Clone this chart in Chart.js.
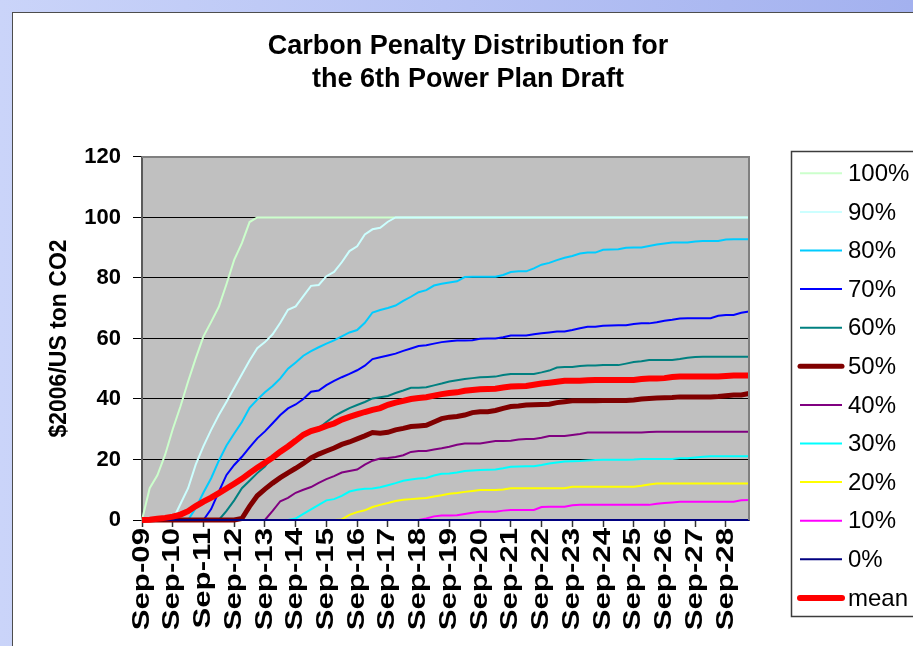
<!DOCTYPE html>
<html>
<head>
<meta charset="utf-8">
<title>Carbon Penalty Distribution</title>
<script src="https://cdn.jsdelivr.net/npm/chart.js@4.4.1/dist/chart.umd.min.js"></script>
<style>
  html, body { margin: 0; padding: 0; }
  body {
    width: 913px; height: 646px; overflow: hidden; position: relative;
    background: linear-gradient(90deg, #cad4f9, #a3b1ef);
  }
  #frame {
    position: absolute; left: 12px; top: 12px; width: 900px; height: 633px;
    background: #fff; border-left: 1px solid #4d4d4d; border-top: 1px solid #4d4d4d;
  }
  canvas { display: block; }
</style>
</head>
<body>
<div id="frame"><canvas id="chartCanvas" width="900" height="633"></canvas></div>
<script>
// quarterly points, Sep-09 .. Jun-29
const quarterMonths = ['Sep', 'Dec', 'Mar', 'Jun'];
const categories = [];
for (let q = 0; q < 80; q++) {
  const yr = 9 + Math.floor(q / 4) + (q % 4 >= 2 ? 1 : 0);
  categories.push(quarterMonths[q % 4] + '-' + String(yr).padStart(2, '0'));
}

const yearTicks = ['Sep-09', 'Sep-10', 'Sep-11', 'Sep-12', 'Sep-13', 'Sep-14', 'Sep-15',
  'Sep-16', 'Sep-17', 'Sep-18', 'Sep-19', 'Sep-20', 'Sep-21', 'Sep-22', 'Sep-23',
  'Sep-24', 'Sep-25', 'Sep-26', 'Sep-27', 'Sep-28'];

const p100 = [
  0, 10.5, 14.8, 21.5, 30, 37.5, 45.8, 53.5, 60.7, 65.5,
  70.5, 78, 86, 91.5, 98.5, 100, 100, 100, 100, 100,
  100, 100, 100, 100, 100, 100, 100, 100, 100, 100,
  100, 100, 100, 100, 100, 100, 100, 100, 100, 100,
  100, 100, 100, 100, 100, 100, 100, 100, 100, 100,
  100, 100, 100, 100, 100, 100, 100, 100, 100, 100,
  100, 100, 100, 100, 100, 100, 100, 100, 100, 100,
  100, 100, 100, 100, 100, 100, 100, 100, 100, 100
];
const p90 = [
  0, 0, 0, 0, 0, 5.3, 10.5, 18.4, 24.4, 29.8,
  34.7, 39.1, 43.6, 48.2, 52.7, 56.8, 58.8, 61.4, 65.2, 69.5,
  70.6, 74, 77.4, 77.7, 80.6, 82, 85.2, 88.9, 90.5, 94.4,
  96.1, 96.6, 98.6, 100, 100, 100, 100, 100, 100, 100,
  100, 100, 100, 100, 100, 100, 100, 100, 100, 100,
  100, 100, 100, 100, 100, 100, 100, 100, 100, 100,
  100, 100, 100, 100, 100, 100, 100, 100, 100, 100,
  100, 100, 100, 100, 100, 100, 100, 100, 100, 100
];
const p80 = [
  0, 0, 0, 0, 0, 0, 0, 4, 9.1, 13.8,
  19.6, 24.6, 28.6, 32.4, 37.1, 39.8, 42.2, 44.3, 46.8, 50,
  52.1, 54.3, 55.8, 57.1, 58.3, 59.4, 60.7, 62, 62.8, 65.2,
  68.6, 69.4, 70.1, 70.9, 72.4, 73.8, 75.3, 76, 77.5, 78.1,
  78.5, 78.9, 80.3, 80.4, 80.4, 80.4, 80.4, 81, 82, 82.2,
  82.2, 83.2, 84.4, 85, 85.9, 86.7, 87.3, 88.1, 88.4, 88.4,
  89.3, 89.4, 89.5, 90, 90.1, 90.1, 90.6, 91.1, 91.4, 91.7,
  91.7, 91.7, 92.1, 92.2, 92.2, 92.2, 92.7, 92.8, 92.8, 92.8
];
const p70 = [
  0, 0, 0, 0, 0, 0, 0, 0, 0, 3.6,
  9.4, 14.9, 18.2, 20.9, 24, 27, 29.3, 32, 34.7, 36.9,
  38.2, 40, 42.4, 42.8, 44.6, 46, 47.2, 48.3, 49.5, 51,
  53.2, 53.8, 54.4, 55, 55.9, 56.7, 57.5, 57.8, 58.3, 58.8,
  59.1, 59.3, 59.3, 59.4, 59.9, 60, 60, 60.4, 61, 61,
  61, 61.4, 61.7, 62, 62.3, 62.3, 62.8, 63.4, 63.9, 63.9,
  64.2, 64.3, 64.4, 64.4, 64.8, 65, 65, 65.4, 65.9, 66.2,
  66.6, 66.7, 66.7, 66.7, 66.7, 67.5, 67.8, 67.8, 68.5, 68.9
];
const p60 = [
  0, 0, 0, 0, 0, 0, 0, 0, 0, 0,
  0, 3, 6.5, 10.5, 13, 15.5, 17.7, 21, 23, 24.5,
  26.3, 27.8, 29.2, 30.3, 32.4, 34.3, 35.7, 37, 38, 39,
  40.2, 40.6, 41, 42, 42.8, 43.7, 43.7, 43.9, 44.5, 45.1,
  45.8, 46.2, 46.6, 46.9, 47.2, 47.3, 47.4, 47.9, 48.3, 48.3,
  48.3, 48.3, 48.8, 49.4, 50.4, 50.6, 50.6, 50.9, 51.1, 51.1,
  51.2, 51.2, 51.2, 51.7, 52.2, 52.5, 52.9, 52.9, 52.9, 52.9,
  53.2, 53.6, 53.9, 54, 54, 54, 54, 54, 54, 54
];
const p50 = [
  0, 0, 0, 0, 0, 0, 0, 0, 0, 0,
  0, 0, 0, 0.5, 4.5, 8, 10.2, 12.2, 14, 15.6,
  17.1, 18.7, 20.5, 21.8, 22.8, 23.8, 25, 25.8, 26.8, 27.8,
  28.9, 28.7, 29, 29.8, 30.3, 30.9, 31.1, 31.3, 32.4, 33.5,
  34, 34.2, 34.7, 35.5, 35.8, 35.8, 36.2, 36.9, 37.5, 37.7,
  38, 38.1, 38.2, 38.3, 38.8, 39.1, 39.4, 39.4, 39.4, 39.4,
  39.5, 39.5, 39.5, 39.5, 39.7, 40, 40.2, 40.3, 40.4, 40.5,
  40.7, 40.7, 40.7, 40.7, 40.7, 40.8, 41.1, 41.3, 41.3, 41.8
];
const p40 = [
  0, 0, 0, 0, 0, 0, 0, 0, 0, 0,
  0, 0, 0, 0, 0, 0, 0, 3, 6.2, 7.3,
  9, 10, 10.9, 12.3, 13.5, 14.5, 15.7, 16.2, 16.7, 18.3,
  19.6, 20.3, 20.5, 20.8, 21.4, 22.5, 22.8, 22.8, 23.3, 23.7,
  24.2, 24.9, 25.3, 25.3, 25.3, 25.7, 26.1, 26.1, 26.2, 26.6,
  26.8, 26.8, 27.2, 27.8, 27.8, 27.8, 28.1, 28.4, 28.9, 28.9,
  28.9, 28.9, 28.9, 28.9, 28.9, 28.9, 29.1, 29.2, 29.2, 29.2,
  29.2, 29.2, 29.2, 29.2, 29.2, 29.2, 29.2, 29.2, 29.2, 29.2
];
const p30 = [
  0, 0, 0, 0, 0, 0, 0, 0, 0, 0,
  0, 0, 0, 0, 0, 0, 0, 0, 0, 0,
  0.5, 2, 3.5, 5, 6.5, 6.9, 8, 9.4, 10, 10.3,
  10.4, 10.8, 11.5, 12.2, 13, 13.4, 13.7, 13.9, 14.7, 15.3,
  15.4, 15.7, 16.2, 16.4, 16.5, 16.6, 16.7, 17.1, 17.6, 17.7,
  17.8, 17.8, 18.2, 18.7, 19, 19.3, 19.4, 19.5, 19.7, 19.8,
  19.9, 19.9, 19.9, 19.9, 20, 20.2, 20.2, 20.2, 20.2, 20.2,
  20.4, 20.4, 20.7, 20.9, 21.1, 21.1, 21.1, 21.1, 21.1, 21.1
];
const p20 = [
  0, 0, 0, 0, 0, 0, 0, 0, 0, 0,
  0, 0, 0, 0, 0, 0, 0, 0, 0, 0,
  0, 0, 0, 0, 0, 0, 0.2, 1.7, 2.6, 3.2,
  4.3, 5, 5.6, 6.3, 6.7, 6.9, 7.1, 7.3, 7.8, 8.2,
  8.7, 8.9, 9.3, 9.6, 9.9, 9.9, 9.9, 10.1, 10.5, 10.5,
  10.5, 10.5, 10.5, 10.5, 10.5, 10.5, 11, 11, 11, 11,
  11, 11, 11, 11, 11, 11.3, 11.7, 12.1, 12.1, 12.1,
  12.1, 12.1, 12.1, 12.1, 12.1, 12.1, 12.1, 12.1, 12.1, 12.1
];
const p10 = [
  0, 0, 0, 0, 0, 0, 0, 0, 0, 0,
  0, 0, 0, 0, 0, 0, 0, 0, 0, 0,
  0, 0, 0, 0, 0, 0, 0, 0, 0, 0,
  0, 0, 0, 0, 0, 0, 0, 0.5, 1.2, 1.5,
  1.5, 1.6, 2, 2.4, 2.7, 2.7, 2.7, 3.1, 3.3, 3.3,
  3.3, 3.3, 4.3, 4.4, 4.4, 4.4, 4.9, 5, 5, 5,
  5, 5, 5, 5, 5, 5, 5, 5.4, 5.6, 5.8,
  6, 6, 6, 6, 6, 6, 6, 6, 6.5, 6.6
];
const p0 = [
  0, 0, 0, 0, 0, 0, 0, 0, 0, 0,
  0, 0, 0, 0, 0, 0, 0, 0, 0, 0,
  0, 0, 0, 0, 0, 0, 0, 0, 0, 0,
  0, 0, 0, 0, 0, 0, 0, 0, 0, 0,
  0, 0, 0, 0, 0, 0, 0, 0, 0, 0,
  0, 0, 0, 0, 0, 0, 0, 0, 0, 0,
  0, 0, 0, 0, 0, 0, 0, 0, 0, 0,
  0, 0, 0, 0, 0, 0, 0, 0, 0, 0
];
const meanVals = [
  0, 0.1, 0.4, 0.7, 1.1, 1.8, 2.9, 4.6, 6.1, 7.4,
  8.9, 10.4, 12, 13.6, 15.5, 17.3, 18.9, 20.6, 22.6, 24.3,
  26.2, 28.2, 29.4, 30.1, 31.1, 31.9, 33.2, 34.1, 34.9, 35.7,
  36.4, 37, 38.1, 38.8, 39.4, 40, 40.3, 40.6, 41.1, 41.6,
  42, 42.2, 42.7, 43, 43.2, 43.3, 43.4, 43.8, 44.1, 44.2,
  44.3, 44.7, 45.1, 45.4, 45.7, 46, 46, 46, 46.2, 46.3,
  46.3, 46.3, 46.3, 46.3, 46.3, 46.6, 46.8, 46.8, 46.9, 47.3,
  47.4, 47.4, 47.4, 47.4, 47.4, 47.4, 47.6, 47.8, 47.8, 47.8
];

const seriesNames  = ['100%', '90%', '80%', '70%', '60%', '50%', '40%', '30%', '20%', '10%', '0%', 'mean'];
const seriesValues = [p100, p90, p80, p70, p60, p50, p40, p30, p20, p10, p0, meanVals];
const seriesColors = ['#ccffcc', '#ccffff', '#00ccff', '#0000ff', '#008080', '#800000',
                      '#800080', '#00ffff', '#ffff00', '#ff00ff', '#000080', '#ff0000'];
const seriesWidths = [2, 2, 2, 2, 2, 5, 2, 2, 2, 2, 2, 6];

Chart.defaults.font.family = '"Liberation Sans", Arial, sans-serif';
Chart.defaults.color = '#000';

// gray plot area + top/right frame
const plotFrame = {
  id: 'plotFrame',
  beforeDraw(chart) {
    const {ctx, chartArea: a} = chart;
    ctx.save();
    ctx.fillStyle = '#c0c0c0';
    ctx.fillRect(a.left, a.top, a.right - a.left, a.bottom - a.top);
    ctx.restore();
  },
  afterDraw(chart) {
    const {ctx, chartArea: a} = chart;
    ctx.save();
    ctx.strokeStyle = '#808080';
    ctx.lineWidth = 2;
    ctx.beginPath();
    ctx.moveTo(a.left, a.top);
    ctx.lineTo(a.right, a.top);
    ctx.lineTo(a.right, a.bottom);
    ctx.stroke();
    ctx.restore();
  }
};

// vertical year labels, a bit stretched like the original
const yearLabels = {
  id: 'yearLabels',
  afterDraw(chart) {
    const xs = chart.scales.x;
    const ctx = chart.ctx;
    ctx.save();
    ctx.font = 'bold 24px "Liberation Sans", Arial, sans-serif';
    ctx.fillStyle = '#000';
    ctx.textAlign = 'right';
    ctx.textBaseline = 'middle';
    yearTicks.forEach(lbl => {
      const x = xs.getPixelForValue(categories.indexOf(lbl));
      ctx.save();
      ctx.translate(x, xs.top + 8);
      ctx.rotate(-Math.PI / 2);
      ctx.scale(1.3, 1);
      ctx.fillText(lbl, 0, 0);
      ctx.restore();
    });
    ctx.restore();
  }
};

// boxed legend on the right
const legendLayout = { left: 778.5, top: 138.5, width: 200, height: 465,
  lineStart: 787, lineEnd: 829, textX: 835, firstRow: 160.3, rowGap: 38.6 };

const sideLegend = {
  id: 'sideLegend',
  afterDraw(chart) {
    const ctx = chart.ctx;
    const L = legendLayout;
    ctx.save();
    ctx.strokeStyle = '#3c3c3c';
    ctx.lineWidth = 1.5;
    ctx.strokeRect(L.left, L.top, L.width, L.height);
    ctx.font = '24px "Liberation Sans", Arial, sans-serif';
    ctx.textBaseline = 'middle';
    ctx.fillStyle = '#000';
    chart.data.datasets.forEach((ds, i) => {
      const y = L.firstRow + i * L.rowGap;
      ctx.beginPath();
      ctx.strokeStyle = ds.borderColor;
      ctx.lineWidth = ds.borderWidth;
      ctx.lineCap = ds.borderWidth > 3 ? 'round' : 'butt';
      ctx.moveTo(L.lineStart, y);
      ctx.lineTo(L.lineEnd, y);
      ctx.stroke();
      ctx.fillText(ds.label, L.textX, y + 1);
    });
    ctx.restore();
  }
};

const datasets = seriesNames.map((name, i) => ({
  label: name,
  data: seriesValues[i],
  borderColor: seriesColors[i],
  backgroundColor: seriesColors[i],
  borderWidth: seriesWidths[i],
  pointRadius: 0,
  tension: 0,
  fill: false,
  clip: false,
  yAxisID: 'y',
  order: seriesNames.length - 1 - i   // later series drawn on top, like Excel
}));

new Chart(document.getElementById('chartCanvas').getContext('2d'), {
  type: 'line',
  data: { labels: categories, datasets },
  options: {
    responsive: false,
    animation: false,
    devicePixelRatio: 1,
    events: [],
    layout: { padding: { left: 10, right: 0, top: 0, bottom: 0 } },
    scales: {
      x: {
        type: 'category',
        offset: false,
        ticks: { display: false, autoSkip: false },
        grid: {
          display: true,
          drawOnChartArea: false,
          drawTicks: true,
          tickLength: 7,
          tickWidth: 1.5,
          tickColor: c => (c.index % 4 === 0 ? '#333' : 'rgba(0,0,0,0)')
        },
        border: { display: true, color: '#5a5a5a', width: 2 },
        afterFit: s => { s.height = 126; }
      },
      y: {
        min: 0,
        max: 120,
        ticks: { stepSize: 20, padding: 12, font: { size: 22, weight: 'bold' }, color: '#000' },
        grid: {
          color: c => (c.tick && (c.tick.value === 0 || c.tick.value === 120) ? 'rgba(0,0,0,0)' : '#000'),
          tickColor: '#000',
          tickLength: 9,
          lineWidth: 1
        },
        border: { color: '#5a5a5a', width: 2 },
        title: {
          display: true,
          text: '$2006/US ton CO2',
          font: { size: 23, weight: 'bold' },
          color: '#000',
          padding: { top: 23, bottom: 0 }
        },
        afterFit: s => { s.width = 119; }
      },
      yRight: {
        position: 'right',
        display: true,
        grid: { display: false },
        ticks: { display: false },
        border: { display: false },
        afterFit: s => { s.width = 164; }
      }
    },
    plugins: {
      legend: { display: false },
      tooltip: { enabled: false },
      title: {
        display: true,
        text: ['Carbon Penalty Distribution for', 'the 6th Power Plan Draft'],
        font: { size: 27, weight: 'bold', lineHeight: 1.2222 },
        color: '#000',
        padding: { top: 17.5, bottom: 60.5 }
      }
    }
  },
  plugins: [plotFrame, yearLabels, sideLegend]
});
</script>
</body>
</html>
